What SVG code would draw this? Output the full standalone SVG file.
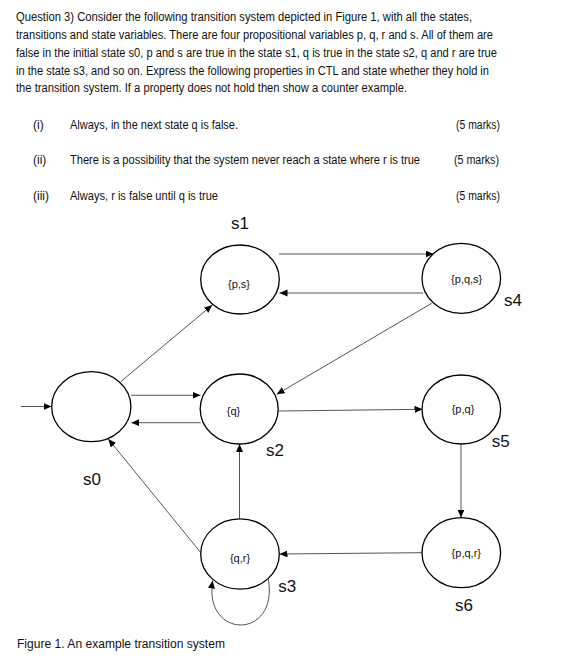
<svg xmlns="http://www.w3.org/2000/svg" width="573" height="667" viewBox="0 0 573 667">
<style>
text{font-family:"Liberation Sans",Arial,sans-serif;fill:#111;}
.body{font-size:12px;}
.lbl{font-size:11px;text-anchor:middle;}
.name{font-size:17px;}
ellipse{fill:#fff;stroke:#000;stroke-width:1.3;}
.edge{fill:none;stroke:#555;stroke-width:1;marker-end:url(#ah);}
</style>
<defs>
<marker id="ah" markerUnits="userSpaceOnUse" markerWidth="9" markerHeight="8" refX="8" refY="3.5" orient="auto">
<path d="M0,0 L8,3.5 L0,7 z" fill="#000"/>
</marker>
</defs>
<rect width="573" height="667" fill="#fff"/>

<g id="question">
<text class="body" x="16" y="21" textLength="456" lengthAdjust="spacingAndGlyphs">Question 3) Consider the following transition system depicted in Figure 1, with all the states,</text>
<text class="body" x="16" y="39" textLength="477" lengthAdjust="spacingAndGlyphs">transitions and state variables. There are four propositional variables p, q, r and s. All of them are</text>
<text class="body" x="16" y="57" textLength="481" lengthAdjust="spacingAndGlyphs">false in the initial state s0, p and s are true in the state s1, q is true in the state s2, q and r are true</text>
<text class="body" x="16" y="74.5" textLength="473" lengthAdjust="spacingAndGlyphs">in the state s3, and so on. Express the following properties in CTL and state whether they hold in</text>
<text class="body" x="16" y="92" textLength="391" lengthAdjust="spacingAndGlyphs">the transition system. If a property does not hold then show a counter example.</text>
<text class="body" x="33" y="129">(i)</text>
<text class="body" x="70" y="129" textLength="168" lengthAdjust="spacingAndGlyphs">Always, in the next state q is false.</text>
<text class="body" x="456" y="129" textLength="44" lengthAdjust="spacingAndGlyphs">(5 marks)</text>
<text class="body" x="33" y="164">(ii)</text>
<text class="body" x="70" y="164" textLength="350" lengthAdjust="spacingAndGlyphs">There is a possibility that the system never reach a state where r is true</text>
<text class="body" x="454" y="164" textLength="45" lengthAdjust="spacingAndGlyphs">(5 marks)</text>
<text class="body" x="33" y="200">(iii)</text>
<text class="body" x="70" y="200" textLength="148" lengthAdjust="spacingAndGlyphs">Always, r is false until q is true</text>
<text class="body" x="456" y="200" textLength="44" lengthAdjust="spacingAndGlyphs">(5 marks)</text>
</g>

<g id="connectors">
<line class="edge" x1="21" y1="406.5" x2="51.5" y2="406.5"/>
<line class="edge" x1="120.7" y1="381.7" x2="212.3" y2="305"/>
<line class="edge" x1="131" y1="395.3" x2="200.5" y2="395.3"/>
<line class="edge" x1="200.7" y1="422.7" x2="131.3" y2="422.7"/>
<line class="edge" x1="279" y1="254" x2="433.5" y2="254"/>
<line class="edge" x1="423" y1="293" x2="279.5" y2="293"/>
<line class="edge" x1="431.7" y1="303.3" x2="276.7" y2="394.3"/>
<line class="edge" x1="278.3" y1="411" x2="422.5" y2="409.3"/>
<line class="edge" x1="461" y1="444.5" x2="461" y2="517.5"/>
<line class="edge" x1="422" y1="552.7" x2="279.5" y2="554"/>
<line class="edge" x1="239.5" y1="519" x2="239.5" y2="444"/>
<line class="edge" x1="200.5" y1="552.3" x2="108.3" y2="439"/>
<path class="edge" d="M268.3,579.3 C279,640 203,640 212.7,580.5"/>
</g>

<g id="s0">
<ellipse cx="91.3" cy="406.7" rx="39.6" ry="35"/>
<text class="name" x="83" y="485">s0</text>
</g>
<g id="s1">
<ellipse cx="240" cy="279.5" rx="39.3" ry="34.5"/>
<text class="lbl" x="239" y="288.3">{p,s}</text>
<text class="name" x="231" y="229">s1</text>
</g>
<g id="s2">
<ellipse cx="239.2" cy="409" rx="39" ry="35"/>
<text class="lbl" x="233.5" y="415.3">{q}</text>
<text class="name" x="266" y="455.7">s2</text>
</g>
<g id="s3">
<ellipse cx="240" cy="554" rx="39.3" ry="35.2"/>
<text class="lbl" x="240" y="561.7">{q,r}</text>
<text class="name" x="278.3" y="591.7">s3</text>
</g>
<g id="s4">
<ellipse cx="461.3" cy="278.3" rx="39.3" ry="35"/>
<text class="lbl" x="466.7" y="283.3">{p,q,s}</text>
<text class="name" x="504" y="306">s4</text>
</g>
<g id="s5">
<ellipse cx="461.3" cy="409.5" rx="39.3" ry="34.5"/>
<text class="lbl" x="463" y="412.7">{p,q}</text>
<text class="name" x="491.7" y="446.7">s5</text>
</g>
<g id="s6">
<ellipse cx="461.3" cy="552.7" rx="39.3" ry="35"/>
<text class="lbl" x="466.3" y="557.3">{p,q,r}</text>
<text class="name" x="455" y="610.7">s6</text>
</g>

<g id="caption">
<text class="body" x="17" y="647.7" textLength="208" lengthAdjust="spacingAndGlyphs">Figure 1. An example transition system</text>
</g>
</svg>
